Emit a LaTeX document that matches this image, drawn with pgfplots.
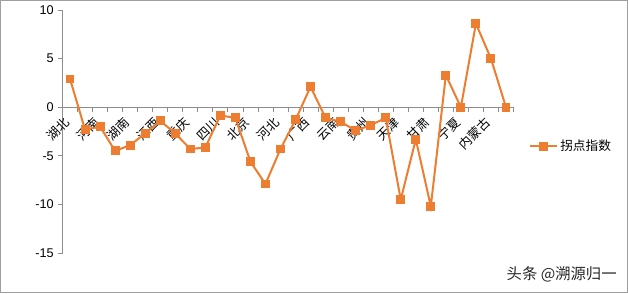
\documentclass[border=0pt]{standalone}
\usepackage{pgfplots}
\pgfplotsset{compat=1.18}
\usepackage{fontspec}
\setmainfont{Liberation Sans}
\newfontfamily\cjk{Noto Sans CJK SC}
\definecolor{lineorange}{HTML}{ED7D31}
\begin{document}
\begin{tikzpicture}
\useasboundingbox (0,0) rectangle (471pt,219.75pt);
\draw[gray!75, line width=1pt] (0.5pt,0.5pt) rectangle (470.5pt,219.25pt);
\begin{axis}[
  at={(46.875pt,30pt)}, anchor=south west,
  scale only axis, width=338.25pt, height=182.25pt,
  xmin=0.5, xmax=30.5, ymin=-15, ymax=10,
  axis x line=middle, axis y line=left,
  axis line style={gray!90, line width=0.7pt, -},
  tick align=outside,
  tick style={gray!90, line width=0.6pt},
  major tick length=3pt, minor tick length=3.5pt,
  xtick={1,3,...,29},
  xticklabels={湖北,河南,湖南,江西,重庆,四川,北京,河北,广西,云南,贵州,天津,甘肃,宁夏,内蒙古},
  major x tick style={draw=none},
  minor xtick={0.5,1.5,...,30.5},
  xticklabel style={yshift=-6.5pt, xshift=-2pt, rotate=45, anchor=east, font=\cjk\fontsize{9.5}{11}\selectfont, inner sep=0.5pt},
  ytick={-15,-10,-5,0,5,10},
  yticklabel style={font=\fontsize{9.5}{11}\selectfont},
  /pgf/number format/assume math mode=true,
  clip=false,
  legend style={draw=none, fill=none, at={(1.025,0.44)}, anchor=west, font=\cjk\fontsize{9.5}{11}\selectfont},
  legend cell align=left,
  legend image code/.code={\draw[mark repeat=2,mark phase=2] plot coordinates {(0cm,0cm) (0.35cm,0cm) (0.7cm,0cm)};},
]
\addplot[color=lineorange, line width=1.5pt, mark=square*, mark size=2.6pt, mark options={solid, fill=lineorange}] coordinates {
(1,2.9) (2,-2.3) (3,-2.0) (4,-4.5) (5,-3.9) (6,-2.7) (7,-1.4) (8,-2.7) (9,-4.3) (10,-4.15)
(11,-0.85) (12,-1.1) (13,-5.6) (14,-7.9) (15,-4.3) (16,-1.3) (17,2.1) (18,-1.1) (19,-1.5) (20,-2.4)
(21,-1.85) (22,-1.1) (23,-9.5) (24,-3.3) (25,-10.2) (26,3.3) (27,0) (28,8.6) (29,5.0) (30,0)
};
\addlegendentry{拐点指数}
\end{axis}
\node[anchor=east, text=gray!30!black, font=\cjk\fontsize{11.5}{13}\selectfont] at (466pt,14pt) {头条 @溯源归一};
\end{tikzpicture}
\end{document}
